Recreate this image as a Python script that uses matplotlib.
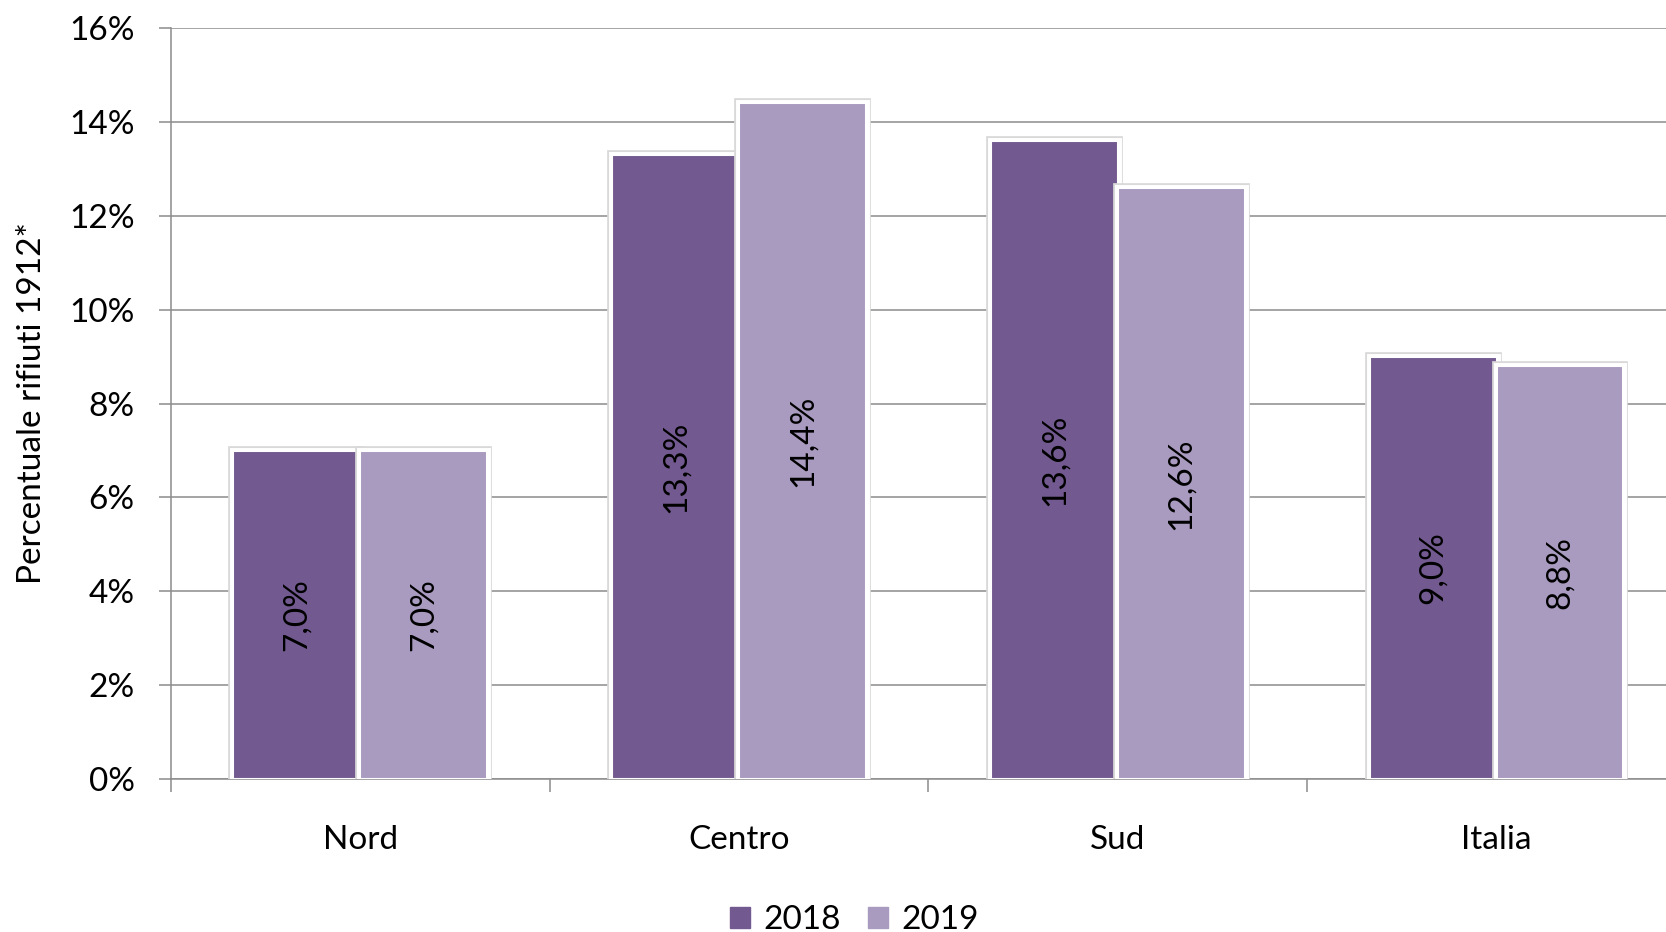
import matplotlib.pyplot as plt
import matplotlib.patheffects as pe
import numpy as np
from matplotlib.ticker import FuncFormatter, FixedLocator

# Quota di rifiuti 1912 per area geografica
aree = ["Nord", "Centro", "Sud", "Italia"]
anni = ["2018", "2019"]
val_2018 = [7.0, 13.3, 13.6, 9.0]
val_2019 = [7.0, 14.4, 12.6, 8.8]

COL_2018 = "#72598F"
COL_2019 = "#A99ABF"
GRIGIO = "#8c8c8c"
FS = 24

plt.rcParams["font.family"] = ["Lato", "DejaVu Sans"]

fig = plt.figure(figsize=(16.66, 9.32), dpi=100)
ax = fig.add_axes([0.1026, 0.164, 0.9094, 0.806])

x = np.arange(len(aree))
w = 0.335
bordo = [pe.Stroke(linewidth=7, foreground="#d9d9d9"),
         pe.Stroke(linewidth=5, foreground="white"),
         pe.Normal()]

for serie, col, off in [(val_2018, COL_2018, -w / 2), (val_2019, COL_2019, w / 2)]:
    bars = ax.bar(x + off, serie, width=w, color=col, edgecolor="white",
                  linewidth=1.5, zorder=3)
    for b, v in zip(bars, serie):
        b.set_path_effects(bordo)
        ax.text(b.get_x() + b.get_width() / 2, v / 2, f"{v:.1f}%".replace(".", ","),
                rotation=90, ha="center", va="center", fontsize=FS,
                color="black", zorder=4)

ax.set_xlim(-0.5, 3.5)
ax.set_ylim(0, 16)
ax.set_yticks(np.arange(0, 17, 2))
ax.yaxis.set_major_formatter(FuncFormatter(lambda v, _: f"{v:.0f}%"))
ax.grid(axis="y", color=GRIGIO, linewidth=1.1, zorder=0)

ax.set_xticks(x)
ax.set_xticklabels(aree)
ax.xaxis.set_minor_locator(FixedLocator(np.arange(-0.5, 4, 1)))
ax.tick_params(axis="x", which="major", length=0, pad=33, labelsize=FS)
ax.tick_params(axis="x", which="minor", length=9, width=1.1, color=GRIGIO)
ax.tick_params(axis="y", length=9, width=1.1, color=GRIGIO, pad=17, labelsize=FS)

for s in ["top", "right"]:
    ax.spines[s].set_visible(False)
for s in ["left", "bottom"]:
    ax.spines[s].set_color(GRIGIO)
    ax.spines[s].set_linewidth(1.1)

fig.text(0.019, 0.567, "Percentuale rifiuti 1912*", rotation=90,
         ha="center", va="center", fontsize=FS)

handles = [plt.Rectangle((0, 0), 1, 1, color=COL_2018),
           plt.Rectangle((0, 0), 1, 1, color=COL_2019)]
fig.legend(handles, anni, loc="center", bbox_to_anchor=(0.513, 0.013),
           ncol=2, frameon=False, fontsize=FS, handlelength=0.6,
           handleheight=0.6, handletextpad=0.4, columnspacing=0.8,
           borderpad=0)

fig.savefig("out.png", dpi=100)
